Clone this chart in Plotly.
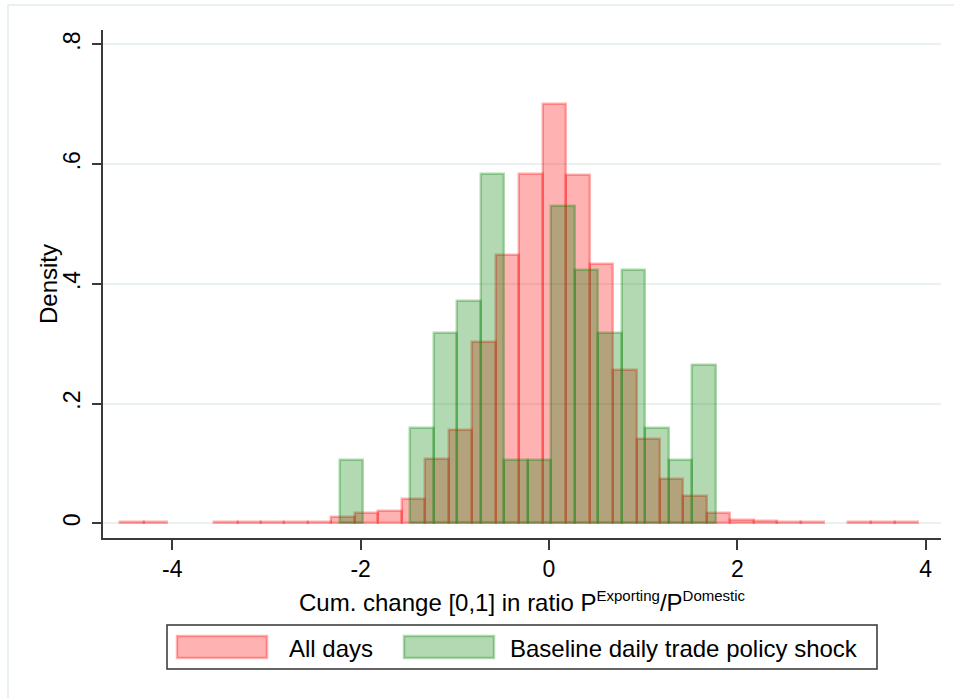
import plotly.graph_objects as go

# Histogram bins (density scale); both series share the same bin width
BIN_WIDTH = 0.2492

# All days: bins start at the left tail
all_days_start = -4.553
all_days_density = [
    0.0017, 0.0017, None, None, 0.0027, 0.0017, 0.0017, 0.0017, 0.0027,
    0.011, 0.0167, 0.021, 0.0406, 0.107, 0.156, 0.3035, 0.449, 0.583,
    0.7006, 0.582, 0.434, 0.256, 0.141, 0.0745, 0.0456, 0.0167, 0.0058,
    0.0036, 0.0025, 0.0017, None, 0.0017, 0.0017, 0.0017,
]

# Baseline daily trade policy shock
shock_start = -2.219
shock_density = [
    0.106, None, None, 0.159, 0.318, 0.371, 0.583, 0.106, 0.106,
    0.530, 0.424, 0.318, 0.424, 0.159, 0.106, 0.265,
]

x_ticks = [-4, -2, 0, 2, 4]
x_tick_labels = ["-4", "-2", "0", "2", "4"]
y_ticks = [0, 0.2, 0.4, 0.6, 0.8]
y_tick_labels = ["0", ".2", ".4", ".6", ".8"]

series_names = ["All days", "Baseline daily trade policy shock"]
x_title = ("Cum. change [0,1] in ratio P"
           "<sup><span style='font-size:15px'>Exporting</span></sup>/P"
           "<sup><span style='font-size:15px'>Domestic</span></sup>")
y_title = "Density"

RED_FILL = "rgba(255,0,0,0.30)"
GREEN_FILL = "rgba(0,128,0,0.30)"
FONT = "Liberation Sans, Arial, sans-serif"


def bin_centers(start, n):
    return [start + BIN_WIDTH * (i + 0.5) for i in range(n)]


# Figure geometry (pixels)
W, H = 954, 698
L, R, T, B = 103, 13, 30, 160
PW, PH = W - L - R, H - T - B


def px(x):
    return (x - L) / PW


def py(y):
    return (H - B - y) / PH


fig = go.Figure()
fig.add_trace(go.Bar(
    x=bin_centers(all_days_start, len(all_days_density)),
    y=all_days_density,
    width=BIN_WIDTH,
    marker=dict(color=RED_FILL, line=dict(color=RED_FILL, width=2.5)),
    name=series_names[0],
    showlegend=False,
))
fig.add_trace(go.Bar(
    x=bin_centers(shock_start, len(shock_density)),
    y=shock_density,
    width=BIN_WIDTH,
    marker=dict(color=GREEN_FILL, line=dict(color=GREEN_FILL, width=2.5)),
    name=series_names[1],
    showlegend=False,
))

axis_line = "#3a3a3a"
fig.update_layout(
    width=W, height=H,
    margin=dict(l=L, r=R, t=T, b=B, autoexpand=False),
    paper_bgcolor="white", plot_bgcolor="white",
    barmode="overlay", bargap=0,
    font=dict(family=FONT, size=23, color="black"),
    showlegend=False,
    xaxis=dict(
        range=[-4.7356, 4.162], tickvals=x_ticks, ticktext=x_tick_labels,
        showgrid=False, zeroline=False,
        showline=True, linecolor=axis_line, linewidth=1.5,
        ticks="outside", ticklen=10, tickwidth=1.5, tickcolor=axis_line,
        tickfont=dict(size=23),
    ),
    yaxis=dict(
        range=[-0.02456, 0.8242], tickvals=y_ticks, ticktext=y_tick_labels,
        tickangle=-90,
        showgrid=True, gridcolor="#EAF1F3", gridwidth=1.5, zeroline=False,
        showline=True, linecolor=axis_line, linewidth=1.5,
        ticks="outside", ticklen=9, tickwidth=1.5, tickcolor=axis_line,
        tickfont=dict(size=23), ticklabelstandoff=3,
    ),
)

shapes = [
    # outer frame of the graph region
    dict(type="line", xref="paper", yref="paper", x0=px(8), x1=px(954), y0=py(5), y1=py(5),
         line=dict(color="#E8F0F2", width=2)),
    dict(type="line", xref="paper", yref="paper", x0=px(8), x1=px(8), y0=py(5), y1=py(698),
         line=dict(color="#E8F0F2", width=2)),
    # legend box and swatches
    dict(type="rect", xref="paper", yref="paper", x0=px(167), x1=px(877), y0=py(669), y1=py(625),
         line=dict(color="#333333", width=1.5), fillcolor="white"),
    dict(type="rect", xref="paper", yref="paper", x0=px(177), x1=px(267), y0=py(658), y1=py(636),
         line=dict(color=RED_FILL, width=2.5), fillcolor=RED_FILL),
    dict(type="rect", xref="paper", yref="paper", x0=px(404), x1=px(494), y0=py(658), y1=py(636),
         line=dict(color=GREEN_FILL, width=2.5), fillcolor=GREEN_FILL),
]
fig.update_layout(shapes=shapes)

annotations = [
    dict(text=y_title, x=px(48), y=py(284), xref="paper", yref="paper",
         textangle=-90, showarrow=False, xanchor="center", yanchor="middle",
         font=dict(size=24)),
    dict(text=x_title, x=px(522), y=py(601), xref="paper", yref="paper",
         showarrow=False, xanchor="center", yanchor="middle", font=dict(size=24)),
    dict(text=series_names[0], x=px(287), y=py(648), xref="paper", yref="paper",
         showarrow=False, xanchor="left", yanchor="middle", font=dict(size=24)),
    dict(text=series_names[1], x=px(508), y=py(648), xref="paper", yref="paper",
         showarrow=False, xanchor="left", yanchor="middle", font=dict(size=24)),
]
fig.update_layout(annotations=annotations)

fig.write_html("out.html")
